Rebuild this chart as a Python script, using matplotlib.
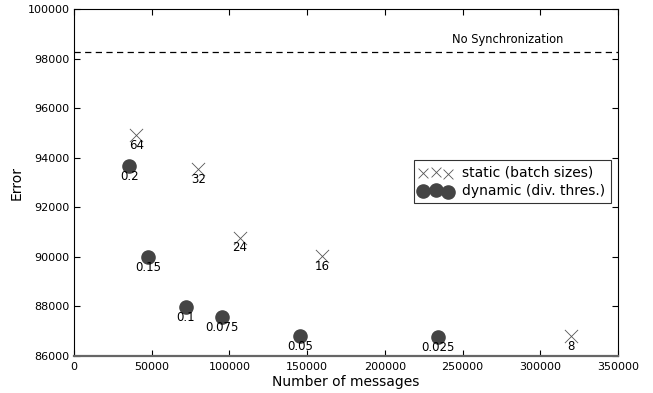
import matplotlib
matplotlib.use("Agg")
import matplotlib.pyplot as plt

static_x = [40000, 80000, 106500, 159500, 319500]
static_y = [94900, 93550, 90780, 90030, 86820]
static_labels = ["64", "32", "24", "16", "8"]

dyn_x = [35500, 47500, 71800, 95200, 145300, 234000]
dyn_y = [93670, 89990, 87960, 87580, 86790, 86750]
dyn_labels = ["0.2", "0.15", "0.1", "0.075", "0.05", "0.025"]

nosync = 98270

fig = plt.figure(figsize=(6.53, 3.93), dpi=100)
ax = fig.add_axes([74/653, 1-356/393, 544/653, 347/393])

ax.scatter(static_x, static_y, marker="x", s=90, c="#555555", linewidths=0.6,
           label="static (batch sizes)", zorder=3)
ax.scatter(dyn_x, dyn_y, marker="o", s=90, c="#444444", edgecolors="#444444",
           label="dynamic (div. thres.)", zorder=3)

for x, y, t in zip(static_x, static_y, static_labels):
    ax.annotate(t, (x, y), xytext=(0, -7.5), textcoords="offset points",
                ha="center", va="center", fontsize=8.5)
for x, y, t in zip(dyn_x, dyn_y, dyn_labels):
    ax.annotate(t, (x, y), xytext=(0, -7.5), textcoords="offset points",
                ha="center", va="center", fontsize=8.5)

ax.axhline(nosync, color="black", linestyle="--", linewidth=0.9, dashes=(5, 3.5))
ax.text(279000, nosync + 250, "No Synchronization", ha="center", va="bottom", fontsize=8.3)

ax.set_xlim(0, 350000)
ax.set_ylim(86000, 100000)
ax.set_xticks(range(0, 350001, 50000))
ax.set_yticks(range(86000, 100001, 2000))
ax.tick_params(direction="in", labelsize=8, top=True, right=True, length=4, pad=3)
ax.tick_params(axis="x", pad=4.5)
ax.spines["bottom"].set_color("#666666")
ax.spines["bottom"].set_linewidth(1.6)
ax.set_xlabel("Number of messages", fontsize=10, labelpad=2)
ax.set_ylabel("Error", fontsize=10, labelpad=3)

leg = ax.legend(loc="upper right", bbox_to_anchor=((611-74)/544, (356-160)/347),
                scatterpoints=3, fontsize=10, frameon=True, fancybox=False,
                edgecolor="black", borderpad=0.4, handletextpad=0.7,
                labelspacing=0.3, handlelength=2.4, borderaxespad=0)
leg.get_frame().set_linewidth(0.8)
leg.legend_handles[0].set_sizes([50])
leg.legend_handles[1].set_sizes([90])

fig.savefig("out.png", dpi=100)
